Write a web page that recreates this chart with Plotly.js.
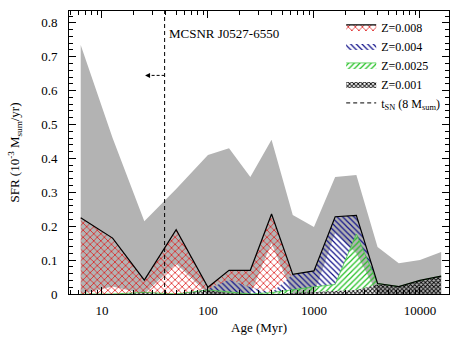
<!DOCTYPE html>
<html>
<head>
<meta charset="utf-8">
<script src="https://cdn.plot.ly/plotly-3.0.1.min.js"></script>
<style>
  html, body { margin: 0; padding: 0; background: #fff; }
  #myPlot { width: 453px; height: 340px; }
</style>
</head>
<body>
<div id="myPlot"></div>
<script>
/**
 * Grab our plot
 */
const myPlot = document.getElementById("myPlot");

/**
 * Data
 * age bins in Myr, SFR in 10^-3 Msun/yr
 */
const age = [6.3, 12.6, 25.1, 50.1, 100, 158, 251, 398, 631, 1000, 1585, 2512, 3981, 6310, 10000, 15849];

// total SFR, upper and lower bounds (gray band)
const sfrUpper = [0.735, 0.46, 0.215, 0.31, 0.41, 0.43, 0.345, 0.455, 0.233, 0.198, 0.345, 0.351, 0.139, 0.091, 0.10, 0.124];
const sfrLower = [0, 0.022, 0, 0.09, 0, 0, 0, 0.15, 0, 0, 0.18, 0.12, 0, 0, 0, 0];

// best fit SFR per metallicity
const z001  = [0, 0, 0.005, 0, 0.012, 0.003, 0, 0, 0.003, 0.006, 0.008, 0.012, 0.028, 0.022, 0.04, 0.053];
const z0025 = [0, 0, 0, 0, 0, 0.004, 0, 0.004, 0.01, 0.015, 0.02, 0.165, 0.003, 0, 0, 0];
const z004  = [0, 0, 0, 0, 0.003, 0.035, 0.02, 0, 0.045, 0.047, 0.2, 0.055, 0, 0, 0, 0];
const z008  = [0.225, 0.165, 0.036, 0.19, 0.005, 0.028, 0.05, 0.232, 0, 0, 0, 0, 0, 0, 0, 0];

const tSN = 39;   // Myr, lifetime of an 8 Msun star
const yTop = 0.835;

// running sums for the stacked areas
const cum = (a, b) => a.map((v, i) => v + b[i]);
const s1 = z001;
const s2 = cum(s1, z0025);
const s3 = cum(s2, z004);
const s4 = cum(s3, z008);

const font = "Liberation Serif, Times New Roman, serif";

const data = [
  {
    x: age, y: sfrUpper, type: "scatter", mode: "lines",
    fill: "tozeroy", fillcolor: "#b3b3b3", line: { width: 0 },
    showlegend: false, hoverinfo: "skip"
  },
  {
    x: age, y: sfrLower, type: "scatter", mode: "lines",
    fill: "tozeroy", fillcolor: "#ffffff", line: { width: 0 },
    showlegend: false, hoverinfo: "skip"
  },
  {
    name: "Z=0.001", legendrank: 4,
    x: age, y: s1, type: "scatter", mode: "lines",
    fill: "tozeroy", fillcolor: "rgba(0,0,0,0)",
    fillpattern: { shape: "x", fgcolor: "#000000", bgcolor: "rgba(0,0,0,0)", size: 3, solidity: 0.5 },
    line: { width: 0, color: "#000000" }
  },
  {
    name: "Z=0.0025", legendrank: 3,
    x: age, y: s2, type: "scatter", mode: "lines",
    fill: "tonexty", fillcolor: "rgba(0,0,0,0)",
    fillpattern: { shape: "/", fgcolor: "#1fbf1f", bgcolor: "rgba(0,0,0,0)", size: 4, solidity: 0.3 },
    line: { width: 0.8, color: "#44cc44" }
  },
  {
    name: "Z=0.004", legendrank: 2,
    x: age, y: s3, type: "scatter", mode: "lines",
    fill: "tonexty", fillcolor: "rgba(0,0,0,0)",
    fillpattern: { shape: "\\", fgcolor: "#10108a", bgcolor: "rgba(0,0,0,0)", size: 4, solidity: 0.3 },
    line: { width: 0, color: "#10108a" }
  },
  {
    name: "Z=0.008", legendrank: 1,
    x: age, y: s4, type: "scatter", mode: "lines",
    fill: "tonexty", fillcolor: "rgba(0,0,0,0)",
    fillpattern: { shape: "x", fgcolor: "#dd1c1c", bgcolor: "rgba(0,0,0,0)", size: 5, solidity: 0.28 },
    line: { width: 1.2, color: "#000000" }
  },
  {
    name: "t<sub>SN</sub> (8 M<sub>sum</sub>)", legendrank: 5,
    x: [tSN, tSN], y: [0, yTop], type: "scatter", mode: "lines",
    line: { width: 1, color: "#000000", dash: "4px,3px" }
  }
];

// minor log ticks
const minorX = [];
for (let d = 1; d <= 10000; d *= 10) {
  for (let k = 2; k <= 9; k++) minorX.push(k * d);
}

const layout = {
  width: 453,
  height: 340,
  margin: { l: 69, r: 4, t: 11, b: 46 },
  paper_bgcolor: "#ffffff",
  plot_bgcolor: "#ffffff",
  font: { family: font, size: 13, color: "#000000" },
  showlegend: true,
  legend: {
    x: 0.99, y: 0.995, xanchor: "right", yanchor: "top",
    bgcolor: "rgba(0,0,0,0)", font: { family: font, size: 12 },
    traceorder: "normal", tracegroupgap: 0
  },
  xaxis: {
    type: "log",
    range: [0.689, 4.274],
    tickvals: [10, 100, 1000, 10000],
    ticktext: ["10", "100", "1000", "10000"],
    ticks: "inside", ticklen: 7, tickcolor: "#000",
    minor: { tickmode: "array", tickvals: minorX, ticks: "inside", ticklen: 4, tickcolor: "#000", showgrid: false },
    showline: true, linecolor: "#000", linewidth: 1, mirror: "ticks",
    showgrid: false, zeroline: false,
    ticklabelstandoff: 4,
    title: { text: "Age (Myr)", standoff: 6, font: { family: font, size: 13 } }
  },
  yaxis: {
    range: [0, yTop],
    dtick: 0.1,
    ticks: "inside", ticklen: 7, tickcolor: "#000",
    minor: { dtick: 0.02, ticks: "inside", ticklen: 4, tickcolor: "#000", showgrid: false },
    showline: true, linecolor: "#000", linewidth: 1, mirror: "ticks",
    showgrid: false, zeroline: false,
    ticklabelstandoff: 8,
    title: { text: "SFR (10<sup>-3</sup> M<sub>sum</sub>/yr)", standoff: 18, font: { family: font, size: 13 } }
  },
  annotations: [
    {
      x: Math.log10(41.5), y: 0.77, xref: "x", yref: "y",
      xanchor: "left", yanchor: "middle", showarrow: false,
      text: "MCSNR J0527-6550", font: { family: font, size: 13 }
    },
    {
      x: Math.log10(25.5), y: 0.645, ax: Math.log10(29), ay: 0.645,
      xref: "x", yref: "y", axref: "x", ayref: "y",
      showarrow: true, arrowhead: 2, arrowsize: 1, arrowwidth: 1, arrowcolor: "#000", text: ""
    }
  ],
  shapes: [
    {
      type: "line", xref: "x", yref: "y",
      x0: tSN, x1: 28, y0: 0.645, y1: 0.645,
      line: { color: "#000", width: 1, dash: "3px,2px" }
    }
  ]
};

Plotly.newPlot(myPlot, data, layout, { staticPlot: true });
</script>
</body>
</html>
